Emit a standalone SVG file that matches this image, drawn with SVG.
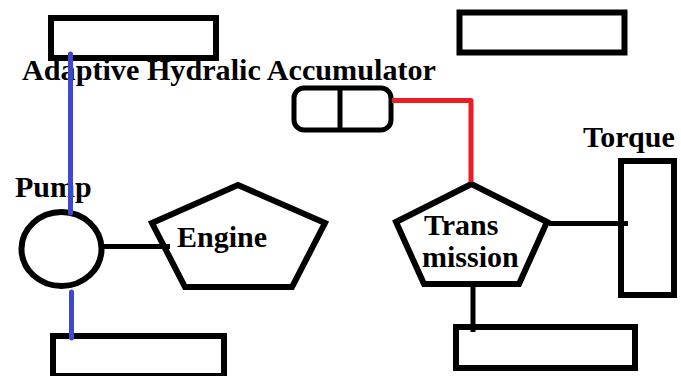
<svg xmlns="http://www.w3.org/2000/svg" width="681" height="376" viewBox="0 0 681 376">
<style>
.box{fill:none;stroke:#000;stroke-width:6}
.shape{fill:#fff;stroke:#000;stroke-width:6;stroke-linejoin:miter}
.lbl{font-family:"Liberation Serif","Times New Roman",serif;font-weight:bold;font-size:30px;fill:#000}
.blk{stroke:#000;stroke-width:5;fill:none}
.blue{stroke:#3f48cc;stroke-width:5;fill:none;stroke-linecap:round}
.red{stroke:#ed1c24;stroke-width:5;fill:none;stroke-linejoin:round}
</style>
<rect width="681" height="376" fill="#fff"/>
<g id="box-top-left"><rect class="box" x="51" y="18" width="165" height="40"/></g>
<g id="box-top-right"><rect class="box" x="459.5" y="12.5" width="165" height="40"/></g>
<g id="box-bottom-left"><rect class="box" x="53" y="336" width="171" height="40"/></g>
<g id="box-bottom-right"><rect class="box" x="456" y="327" width="179" height="41"/></g>
<g id="torque-box"><rect class="box" x="621" y="161" width="53" height="134"/></g>
<g id="accumulator">
<rect x="294" y="88" width="97" height="42" rx="10" ry="10" fill="#fff" stroke="#000" stroke-width="5"/>
<line x1="340" y1="88" x2="340" y2="130" stroke="#000" stroke-width="5"/>
</g>
<g id="pump"><ellipse class="shape" cx="61.5" cy="249" rx="40" ry="37"/></g>
<g id="engine"><polygon class="shape" points="238,185 152,223 185,287 292,287 325,223"/></g>
<g id="transmission"><polygon class="shape" points="471.5,184 396,222 424,284 519,284 547,222"/></g>
<g id="labels">
<text class="lbl" x="22" y="80" textLength="414" lengthAdjust="spacingAndGlyphs">Adaptive Hydralic Accumulator</text>
<text class="lbl" x="15" y="197">Pump</text>
<text class="lbl" x="583" y="146.5">Torque</text>
<text class="lbl" x="177" y="246.5">Engine</text>
<text class="lbl" x="424" y="235">Trans</text>
<text class="lbl" x="422" y="266.5">mission</text>
</g>
<g id="connectors">
<line class="blue" x1="70.5" y1="54" x2="70.5" y2="213"/>
<line class="blue" x1="71.5" y1="292" x2="71.5" y2="338"/>
<line class="blk" x1="104" y1="246.5" x2="170" y2="246.5"/>
<polyline class="red" points="392,100.5 471,100.5 471,182"/>
<line class="blk" x1="549" y1="223.5" x2="628" y2="223.5"/>
<line class="blk" x1="473" y1="286" x2="473" y2="332"/>
</g>
</svg>
